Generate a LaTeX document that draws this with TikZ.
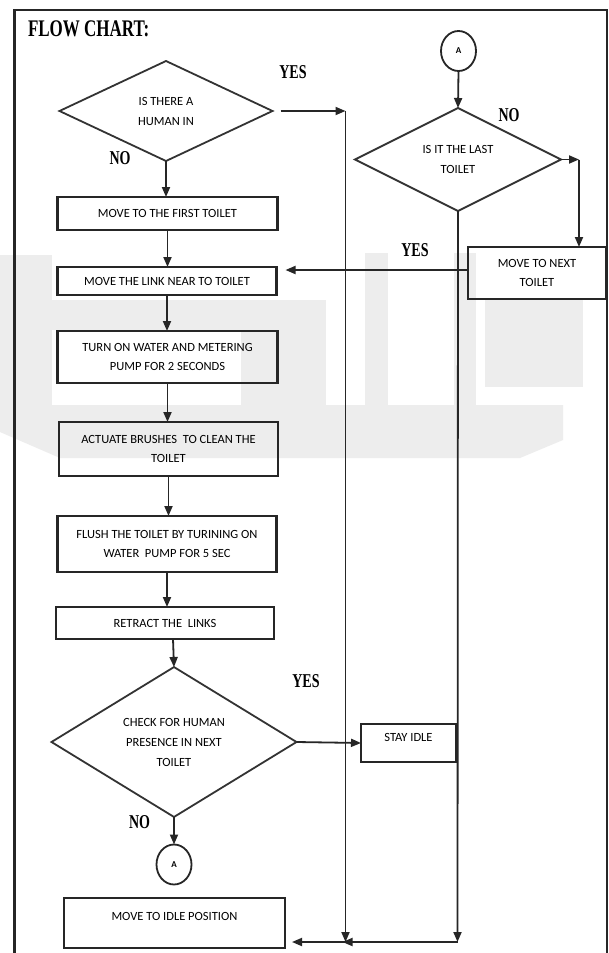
\documentclass[tikz,border=0pt]{standalone}
\usepackage{fontspec}
\setmainfont{Liberation Serif}
\newfontfamily\boxfont{Carlito}
\usetikzlibrary{arrows.meta,shapes.geometric}
\tikzset{
  every node/.style={inner sep=0pt, outer sep=0pt},
  procbox/.style={draw=black!85, line width=2.2pt, rectangle, align=center,
    font=\boxfont\fontsize{12.5}{19}\selectfont},
  decision/.style={draw=black!80, line width=1.8pt, diamond, align=center,
    font=\boxfont\fontsize{12.5}{20}\selectfont},
  connector/.style={draw=black!85, line width=1.8pt, ellipse,
    minimum width=35pt, minimum height=40pt, font=\boxfont\bfseries\fontsize{9}{10}\selectfont},
  flow/.style={draw=black!85, line width=1.8pt, -{Triangle[length=10pt,width=8pt]}},
  answer/.style={font=\bfseries\fontsize{14}{14}\selectfont},
  wmark/.style={fill=black!7, draw=none}
}
\newcommand{\tall}[1]{\scalebox{1}[1.4]{#1}}
\begin{document}
\begin{tikzpicture}[x=1pt,y=-1pt]
\useasboundingbox (0,0) rectangle (609,953);
\fill[white] (0,0) rectangle (609,953);
% faint watermark
\fill[wmark] (0,255) rectangle (52,405);
\fill[wmark] (0,405) -- (563,405) -- (563,440) -- (520,458) -- (60,458) -- (0,432) -- cycle;
\fill[wmark] (50,300) rectangle (326,330);
\fill[wmark] (241,300) rectangle (326,405);
\fill[wmark] (365,253) rectangle (388,405);
\fill[wmark] (454,253) rectangle (476,405);
\fill[wmark] (485,300) rectangle (583,387);
% frame
\draw[line width=2.2pt, black!85] (14.5,970) -- (14.5,10) -- (607,10) -- (607,970);
% title
\node[anchor=base west, font=\bfseries\fontsize{17}{17}\selectfont] (title) at (28,36) {\tall{FLOW CHART:}};
% nodes
\node[decision, minimum width=213pt, minimum height=100pt] (d1) at (166,111) {IS THERE A\\HUMAN IN};
\node[procbox, minimum width=220pt, minimum height=33pt] (b1) at (167.5,213.5) {MOVE TO THE FIRST TOILET};
\node[procbox, minimum width=219pt, minimum height=28pt] (b2) at (167,281) {MOVE THE LINK NEAR TO TOILET};
\node[procbox, minimum width=220pt, minimum height=52pt] (b3) at (167.5,357) {TURN ON WATER AND METERING\\PUMP FOR 2 SECONDS};
\node[procbox, minimum width=219pt, minimum height=54pt] (b4) at (168.5,449) {ACTUATE BRUSHES\ \ TO CLEAN THE\\TOILET};
\node[procbox, minimum width=219pt, minimum height=56pt] (b5) at (167,544) {FLUSH THE TOILET BY TURINING ON\\WATER\ \ PUMP FOR 5 SEC};
\node[procbox, minimum width=218pt, minimum height=32pt] (b6) at (165,623) {RETRACT THE\ \ LINKS};
\node[decision, minimum width=245pt, minimum height=134pt] (d3) at (174,742) {CHECK FOR HUMAN\\PRESENCE IN NEXT\\TOILET};
\node[connector] (a2) at (174,864.5) {A};
\node[procbox, minimum width=221pt, minimum height=50pt, text depth=14pt] (b9) at (174.5,923) {MOVE TO IDLE POSITION};
\node[connector] (a1) at (458.5,51) {A};
\node[decision, minimum width=206pt, minimum height=103pt] (d2) at (458,159.5) {IS IT THE LAST\\TOILET};
\node[procbox, minimum width=138pt, minimum height=52pt] (b7) at (537,273) {MOVE TO NEXT\\TOILET};
\node[procbox, minimum width=95pt, minimum height=38pt, text depth=11pt] (b8) at (408.5,743) {STAY IDLE};
% branch labels
\node[answer] (yes1) at (293,72) {\tall{YES}};
\node[answer] (no1) at (120,158) {\tall{NO}};
\node[answer] (no2) at (509,115) {\tall{NO}};
\node[answer] (yes2) at (415,250) {\tall{YES}};
\node[answer] (yes3) at (306,681) {\tall{YES}};
\node[answer] (no3) at (139.5,822) {\tall{NO}};
% junction coordinates
\coordinate (v1top) at (345.5,111);
\coordinate (v1bot) at (345.5,942);
\coordinate (v2bot) at (457.5,942);
\coordinate (c1) at (579,159.5);
% connectors on the main column
\draw[flow] (d1.south) -- (d1.south |- b1.north);
\draw[flow] (b1.south) -- (b1.south |- b2.north);
\draw[flow] (b2.south) -- (b2.south |- b3.north);
\draw[flow] (b3.south) -- (b3.south |- b4.north);
\draw[flow] (b4.south) -- (b4.south |- b5.north);
\draw[flow] (b5.south) -- (b5.south |- b6.north);
\draw[flow] ([xshift=8pt]b6.south) -- (d3.north);
\draw[flow] (d3.south) -- (a2.north);
% yes from first decision
\draw[flow, shorten <=8pt] (d1.east) -- (v1top);
\draw[flow] (v1top) -- (v1bot);
% right column
\draw[flow] (a1.south) -- (d2.north);
\draw[flow] (d2.east) -- (c1);
\draw[flow] (c1) -- (c1 |- b7.north);
\draw[flow, shorten >=9pt] ([yshift=3pt]b7.west) -- ([yshift=3pt]b7.west -| b2.east);
\draw[flow] (d2.south) -- (v2bot);
\draw[flow] (d3.east) -- (b8.west);
% bottom return
\draw[flow, shorten >=-3pt] (v2bot) -- (v1bot);
\draw[flow, shorten >=7pt] (v1bot) -- (v1bot -| b9.east);
\end{tikzpicture}
\end{document}
